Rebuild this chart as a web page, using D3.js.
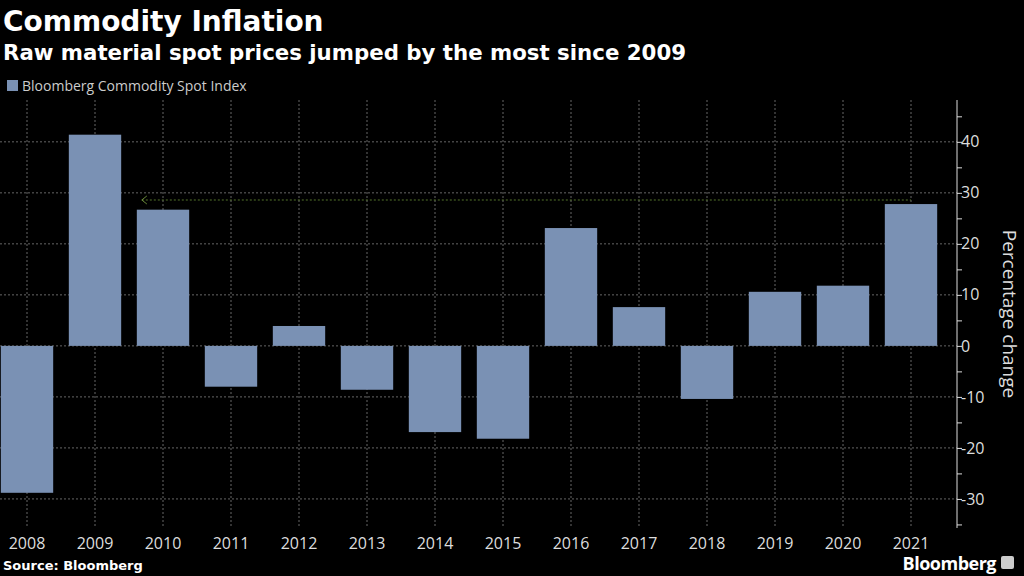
<!DOCTYPE html>
<html>
<head>
<meta charset="utf-8">
<script src="https://d3js.org/d3.v7.min.js"></script>
<style>
body { margin: 0; background: #000; }
text { font-family: "Open Sans", "DejaVu Sans", sans-serif; }
.title { font-family: "DejaVu Sans", sans-serif; }
</style>
</head>
<body>
<div id="chart"></div>
<script>
const years = ['2008','2009','2010','2011','2012','2013','2014','2015','2016','2017','2018','2019','2020','2021'];
const values = [-28.8, 41.4, 26.7, -8.0, 3.9, -8.6, -16.9, -18.2, 23.1, 7.6, -10.4, 10.6, 11.8, 27.8];
const yTicks = [-30, -20, -10, 0, 10, 20, 30, 40];
const markerValue = 28.6;

const W = 1024, H = 576;
const svg = d3.select('#chart').append('svg')
  .attr('width', W).attr('height', H)
  .style('background', '#000');

const x = d3.scaleBand().domain(years).range([-7, 945]).paddingInner(0.23).paddingOuter(0.115);
const y = d3.scaleLinear().domain([-35.7, 48.2]).range([528, 100]);
const axisX = 957;

// grid
svg.append('g').selectAll('line').data(yTicks).enter().append('line')
  .attr('x1', 0).attr('x2', axisX).attr('y1', d => y(d)).attr('y2', d => y(d))
  .attr('stroke', '#666').attr('stroke-dasharray', '2,2');
svg.append('g').selectAll('line').data(years).enter().append('line')
  .attr('x1', d => x(d) + x.bandwidth() / 2).attr('x2', d => x(d) + x.bandwidth() / 2)
  .attr('y1', 100).attr('y2', 528)
  .attr('stroke', '#666').attr('stroke-dasharray', '2,2');

// bars
svg.append('g').selectAll('rect').data(values).enter().append('rect')
  .attr('x', (d, i) => x(years[i]))
  .attr('width', x.bandwidth())
  .attr('y', d => y(Math.max(0, d)))
  .attr('height', d => Math.abs(y(d) - y(0)))
  .attr('fill', '#7a91b4');

// marker line
const mx0 = x('2010') + 5, mx1 = x('2021') + x.bandwidth() / 2;
svg.append('line').attr('x1', mx0).attr('x2', mx1)
  .attr('y1', y(markerValue)).attr('y2', y(markerValue))
  .attr('stroke', '#56752c').attr('stroke-width', 1).attr('stroke-dasharray', '2,2');
svg.append('path')
  .attr('d', `M${mx0 + 5},${y(markerValue) - 4} L${mx0},${y(markerValue)} L${mx0 + 5},${y(markerValue) + 4}`)
  .attr('fill', 'none').attr('stroke', '#6a8a3a');

// y axis
const yAxis = d3.axisRight(y).tickValues(d3.range(-35, 50, 5)).tickSize(5)
  .tickFormat(d => d % 10 === 0 ? (d < 0 ? '-' + Math.abs(d) : d) : '');
const gy = svg.append('g').attr('transform', `translate(${axisX},0)`).call(yAxis);
gy.select('.domain').attr('d', 'M0,100V528').attr('stroke', '#ddd');
gy.selectAll('.tick line').attr('stroke', '#ddd');
gy.selectAll('.tick text').attr('fill', '#ddd').attr('font-size', 16).attr('x', 4);

svg.append('text').attr('transform', `translate(1003,314) rotate(90)`)
  .attr('text-anchor', 'middle').attr('fill', '#ddd').attr('font-size', 19)
  .text('Percentage change');

// x labels
svg.append('g').selectAll('text').data(years).enter().append('text')
  .attr('x', d => x(d) + x.bandwidth() / 2).attr('y', 549)
  .attr('text-anchor', 'middle').attr('fill', '#ddd').attr('font-size', 16)
  .text(d => d);

// titles
svg.append('text').attr('class', 'title').attr('x', 3).attr('y', 31).attr('fill', '#fff')
  .attr('font-size', 28).attr('font-weight', 'bold').text('Commodity Inflation');
svg.append('text').attr('class', 'title').attr('x', 3).attr('y', 60).attr('fill', '#fff')
  .attr('font-size', 21.3).attr('font-weight', 'bold').text('Raw material spot prices jumped by the most since 2009');
svg.append('rect').attr('x', 7).attr('y', 80).attr('width', 11).attr('height', 11).attr('fill', '#7a91b4');
svg.append('text').attr('x', 22).attr('y', 91).attr('fill', '#ccc').attr('font-size', 14)
  .text('Bloomberg Commodity Spot Index');

svg.append('text').attr('class', 'title').attr('x', 3).attr('y', 570).attr('fill', '#fff')
  .attr('font-size', 13).attr('font-weight', 'bold').text('Source: Bloomberg');
svg.append('text').attr('x', 996).attr('y', 570).attr('text-anchor', 'end').attr('fill', '#fff')
  .attr('font-size', 18).attr('font-weight', 'bold').attr('letter-spacing', -0.5).text('Bloomberg');
svg.append('rect').attr('x', 1001).attr('y', 556).attr('width', 13).attr('height', 13)
  .attr('rx', 2).attr('fill', '#ccc');
</script>
</body>
</html>
